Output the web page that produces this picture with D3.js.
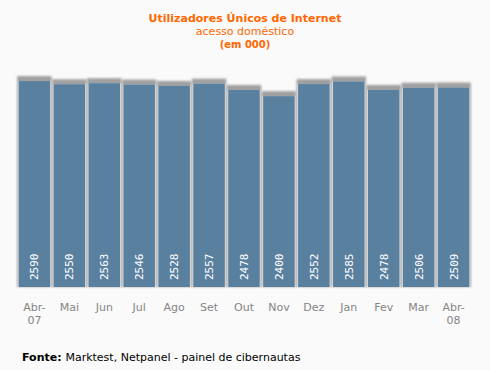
<!DOCTYPE html>
<html>
<head>
<meta charset="utf-8">
<script src="https://cdn.jsdelivr.net/npm/d3@7"></script>
<style>
  body { margin: 0; background: #fafafa; }
  svg { display: block; }
</style>
</head>
<body>
<div id="chart"></div>
<script>
// chart size
const svg_w = 490;
const svg_h = 370;

// data
const months = ["Abr-07", "Mai", "Jun", "Jul", "Ago", "Set", "Out", "Nov", "Dez", "Jan", "Fev", "Mar", "Abr-08"];
const users = [2590, 2550, 2563, 2546, 2528, 2557, 2478, 2400, 2552, 2585, 2478, 2506, 2509];
const titleLines = ["Utilizadores Únicos de Internet", "acesso doméstico", "(em 000)"];

const svg = d3.select("#chart")
  .append("svg")
  .attr("width", svg_w)
  .attr("height", svg_h);

svg.append("rect").attr("width", svg_w).attr("height", svg_h).attr("fill", "#fafafa");

// blur for the bar shadows
const defs = svg.append("defs");
defs.append("filter").attr("id", "blur")
  .attr("x", "-20%").attr("y", "-20%").attr("width", "140%").attr("height", "140%")
  .append("feGaussianBlur").attr("stdDeviation", 1.2);

const xScale = d3.scaleBand()
  .domain(months)
  .range([18, 470])
  .paddingInner(0.1)
  .paddingOuter(0.02);

const yScale = d3.scaleLinear()
  .domain([0, 2700])
  .range([287, 72.3]);

// shadows
svg.append("g").selectAll("rect")
  .data(users)
  .join("rect")
  .attr("x", (d, i) => xScale(months[i]) - 1.5)
  .attr("y", d => yScale(d) - 5)
  .attr("width", xScale.bandwidth() + 3)
  .attr("height", d => 287 - yScale(d) + 5)
  .attr("fill", "#a0a0a0")
  .attr("filter", "url(#blur)");

svg.append("g").selectAll("rect")
  .data(users)
  .join("rect")
  .attr("x", (d, i) => xScale(months[i]) - 1)
  .attr("y", d => yScale(d))
  .attr("width", xScale.bandwidth() + 2)
  .attr("height", d => 287 - yScale(d))
  .attr("fill", "#d4d4d4");

// bars
svg.append("g").selectAll("rect")
  .data(users)
  .join("rect")
  .attr("x", (d, i) => xScale(months[i]))
  .attr("y", d => yScale(d))
  .attr("width", xScale.bandwidth())
  .attr("height", d => 287 - yScale(d))
  .attr("fill", "#5a80a0");

// values inside bars
svg.append("g").selectAll("text")
  .data(users)
  .join("text")
  .attr("transform", (d, i) => "translate(" + (xScale(months[i]) + xScale.bandwidth() / 2 + 4) + ",280) rotate(-90)")
  .attr("fill", "#ffffff")
  .style("font-family", "DejaVu Sans Mono")
  .style("font-size", "11px")
  .text(d => d);

// month labels
const xAxis = svg.append("g").selectAll("text")
  .data(months)
  .join("text")
  .attr("x", d => xScale(d) + xScale.bandwidth() / 2)
  .attr("y", 311)
  .attr("text-anchor", "middle")
  .attr("fill", "#858585")
  .style("font-family", "DejaVu Sans")
  .style("font-size", "11px");
xAxis.each(function(d) {
  const parts = d.split("-");
  const t = d3.select(this);
  if (parts.length > 1) {
    t.append("tspan").attr("x", xScale(d) + xScale.bandwidth() / 2).text(parts[0] + "-");
    t.append("tspan").attr("x", xScale(d) + xScale.bandwidth() / 2).attr("dy", 13).text(parts[1]);
  } else {
    t.text(d);
  }
});

// titles
svg.append("text").attr("x", 245).attr("y", 22).attr("text-anchor", "middle")
  .attr("fill", "#ff6600").style("font-family", "DejaVu Sans").style("font-size", "11px").style("font-weight", "bold")
  .text(titleLines[0]);
svg.append("text").attr("x", 245).attr("y", 35).attr("text-anchor", "middle")
  .attr("fill", "#ff6600").style("font-family", "DejaVu Sans").style("font-size", "11px")
  .text(titleLines[1]);
svg.append("text").attr("x", 245).attr("y", 48).attr("text-anchor", "middle")
  .attr("fill", "#ff6600").style("font-family", "DejaVu Sans").style("font-size", "10px").style("font-weight", "bold")
  .text(titleLines[2]);

// source
const src = svg.append("text").attr("x", 22).attr("y", 361)
  .attr("fill", "#000").style("font-family", "DejaVu Sans").style("font-size", "11px");
src.append("tspan").style("font-weight", "bold").text("Fonte: ");
src.append("tspan").text("Marktest, Netpanel - painel de cibernautas");
</script>
</body>
</html>
